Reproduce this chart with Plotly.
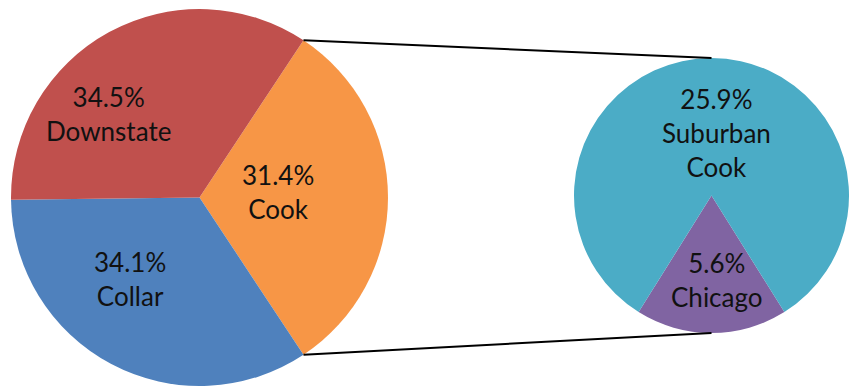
import numpy as np
import plotly.graph_objects as go

# Illinois share breakdown: main pie and the split of Cook County
main_labels = ["Cook", "Collar", "Downstate"]
main_values = [31.4, 34.1, 34.5]
main_colors = ["#F79646", "#4F81BD", "#C0504D"]

sub_labels = ["Chicago", "Suburban<br>Cook"]
sub_values = [5.6, 25.9]
sub_colors = ["#8064A2", "#4BACC6"]

W, H = 849, 389
FONT = dict(family="Lato, 'Open Sans', sans-serif", size=26, color="#111111")

# pixel boxes of the two pies (left, top, right, bottom)
main_box = (11, 9, 388, 386)
sub_box = (574, 54, 849, 337)


def domain(box):
    l, t, r, b = box
    return dict(x=[l / W, r / W], y=[(H - b) / H, (H - t) / H])


def geometry(box):
    l, t, r, b = box
    rad = min(r - l, b - t) / 2
    return (l + r) / 2, (t + b) / 2, rad


# the Cook slice is centred on 3 o'clock, Chicago on 6 o'clock
main_rot = 90 - 360 * main_values[0] / sum(main_values) / 2
sub_rot = 180 - 360 * sub_values[0] / sum(sub_values) / 2

fig = go.Figure()
fig.add_trace(go.Pie(
    labels=main_labels, values=main_values, sort=False, direction="clockwise",
    rotation=main_rot, marker=dict(colors=main_colors, line=dict(width=0)),
    textinfo="none", hoverinfo="label+percent", domain=domain(main_box),
    showlegend=False,
))
fig.add_trace(go.Pie(
    labels=sub_labels, values=sub_values, sort=False, direction="clockwise",
    rotation=sub_rot, marker=dict(colors=sub_colors, line=dict(width=0)),
    textinfo="none", hoverinfo="label+value", domain=domain(sub_box),
    showlegend=False,
))

# connector lines from the ends of the Cook slice to the top/bottom of the sub pie
cx1, cy1, r1 = geometry(main_box)
cx2, cy2, r2 = geometry(sub_box)
a0 = np.radians(main_rot)
a1 = np.radians(main_rot + 360 * main_values[0] / sum(main_values))
ends = [
    ((cx1 + r1 * np.sin(a0), cy1 - r1 * np.cos(a0)), (cx2, cy2 - r2)),
    ((cx1 + r1 * np.sin(a1), cy1 - r1 * np.cos(a1)), (cx2, cy2 + r2)),
]
for (x0, y0), (x1, y1) in ends:
    fig.add_shape(type="line", xref="paper", yref="paper",
                  x0=x0 / W, y0=(H - y0) / H, x1=x1 / W, y1=(H - y1) / H,
                  line=dict(color="black", width=2))

# label anchors, pixel offsets from each pie's centre
main_label_pos = {"Cook": (78, -6), "Collar": (-70, 81), "Downstate": (-91, -83)}
sub_label_pos = {"Chicago": (5, 84), "Suburban<br>Cook": (5, -63)}

for lab, val in zip(main_labels, main_values):
    dx, dy = main_label_pos[lab]
    fig.add_annotation(x=(cx1 + dx) / W, y=(H - cy1 - dy) / H, xref="paper", yref="paper",
                       text=f"{val:.1f}%<br>{lab}", showarrow=False, font=FONT,
                       xanchor="center", yanchor="middle")
for lab, val in zip(sub_labels, sub_values):
    dx, dy = sub_label_pos[lab]
    fig.add_annotation(x=(cx2 + dx) / W, y=(H - cy2 - dy) / H, xref="paper", yref="paper",
                       text=f"{val:.1f}%<br>{lab}", showarrow=False, font=FONT,
                       xanchor="center", yanchor="middle")

fig.update_layout(
    width=W, height=H, margin=dict(l=0, r=0, t=0, b=0),
    paper_bgcolor="white", plot_bgcolor="white",
)
fig.write_html("out.html")
